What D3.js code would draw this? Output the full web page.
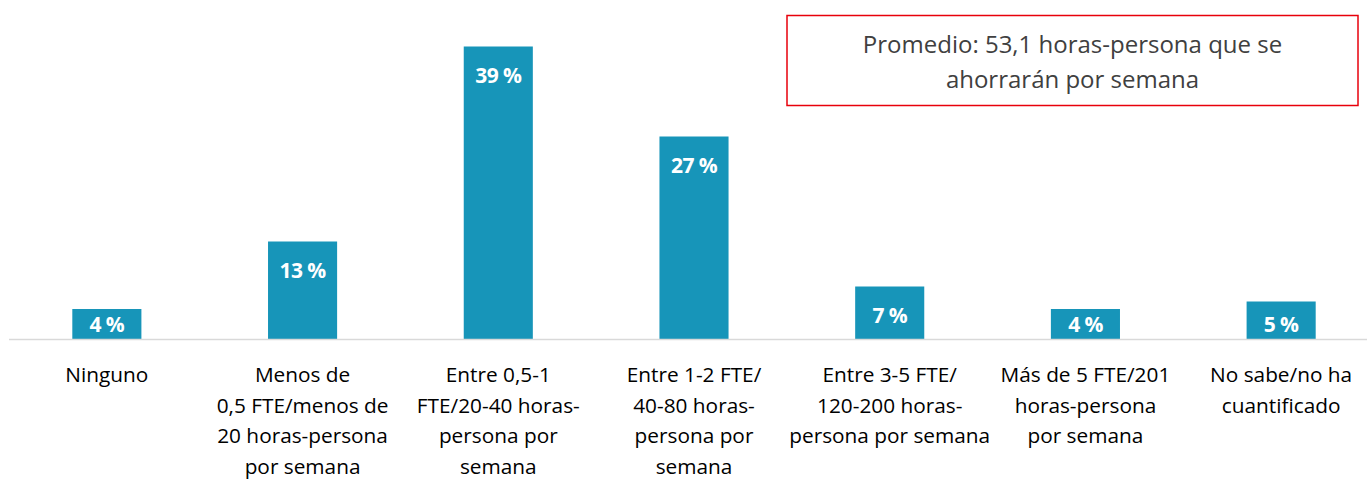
<!DOCTYPE html>
<html><head><meta charset="utf-8">
<script src="https://cdn.jsdelivr.net/npm/d3@7"></script>
<style>
html,body{margin:0;padding:0;background:#fff;}
svg{display:block;}
</style></head>
<body>
<svg id="chart" width="1367" height="479"></svg>
<script>
const categories = [
  ["Ninguno"],
  ["Menos de", "0,5 FTE/menos de", "20 horas-persona", "por semana"],
  ["Entre 0,5-1", "FTE/20-40 horas-", "persona por", "semana"],
  ["Entre 1-2 FTE/", "40-80 horas-", "persona por", "semana"],
  ["Entre 3-5 FTE/", "120-200 horas-", "persona por semana"],
  ["Más de 5 FTE/201", "horas-persona", "por semana"],
  ["No sabe/no ha", "cuantificado"]
];
const values = [4, 13, 39, 27, 7, 4, 5];
const valueLabels = ["4 %", "13 %", "39 %", "27 %", "7 %", "4 %", "5 %"];
const annotation = ["Promedio: 53,1 horas-persona que se", "ahorrarán por semana"];

const svg = d3.select("#chart");
const baseY = 339;
const x = d3.scaleBand().domain(d3.range(categories.length)).range([9, 1379]).paddingInner(0.647).paddingOuter(0.3235);
const y = d3.scaleLinear().domain([0, 40]).range([baseY, baseY - 300]);

const font = "'Open Sans', sans-serif";

svg.selectAll("rect.bar").data(values).join("rect")
  .attr("class", "bar")
  .attr("x", (d, i) => x(i))
  .attr("width", x.bandwidth())
  .attr("y", d => y(d))
  .attr("height", d => baseY - y(d))
  .attr("fill", "#1795b9");

// axis line
svg.append("line").attr("x1", 9).attr("x2", 1367).attr("y1", baseY + 0.5).attr("y2", baseY + 0.5)
  .attr("stroke", "#d9d9d9").attr("stroke-width", 1.5);

svg.selectAll("text.val").data(values).join("text")
  .attr("class", "val")
  .attr("x", (d, i) => x(i) + x.bandwidth() / 2)
  .attr("y", d => Math.min(y(d) + 36, baseY - 7))
  .attr("text-anchor", "middle")
  .attr("font-family", font).attr("font-weight", 700).attr("font-size", 21)
  .attr("letter-spacing", -0.6)
  .attr("fill", "#fff")
  .text((d, i) => valueLabels[i]);

const cat = svg.selectAll("text.cat").data(categories).join("text")
  .attr("class", "cat")
  .attr("text-anchor", "middle")
  .attr("font-family", font).attr("font-size", 20.8)
  .attr("fill", "#000");
cat.each(function(lines, i) {
  d3.select(this).selectAll("tspan").data(lines).join("tspan")
    .attr("x", x(i) + x.bandwidth() / 2)
    .attr("y", (l, j) => 382 + j * 30.5)
    .text(l => l);
});

// annotation box
svg.append("rect").attr("x", 787).attr("y", 15.5).attr("width", 571).attr("height", 90)
  .attr("fill", "none").attr("stroke", "#e8000b").attr("stroke-width", 1.5);
svg.append("text").attr("text-anchor", "middle")
  .attr("font-family", font).attr("font-size", 24).attr("fill", "#404040")
  .selectAll("tspan").data(annotation).join("tspan")
  .attr("x", 1072.5).attr("y", (d, j) => 53 + j * 35).text(d => d);
</script>
</body></html>
